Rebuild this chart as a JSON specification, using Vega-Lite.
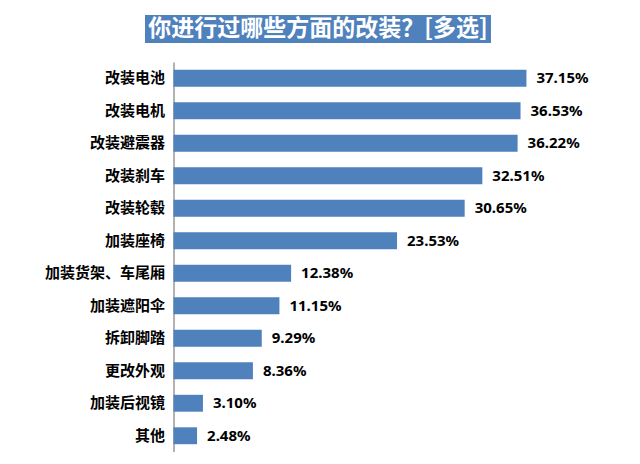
{
  "$schema": "https://vega.github.io/schema/vega-lite/v6.json",
  "padding": {"left": 44, "top": 15, "right": 0, "bottom": 0},
  "background": "white",
  "spacing": 19,
  "center": true,
  "config": {"view": {"stroke": null}},
  "vconcat": [
    {
      "width": 346,
      "height": 28,
      "data": {"values": [{"t": "你进行过哪些方面的改装？[多选]"}]},
      "encoding": {
        "y": {
          "field": "t", "type": "nominal",
          "scale": {"paddingInner": 0, "paddingOuter": 0},
          "axis": {"orient": "right", "title": null, "labels": false, "ticks": false, "domain": false, "grid": false, "minExtent": 126, "maxExtent": 126}
        }
      },
      "layer": [
        {"mark": {"type": "rect", "color": "#4F81BD"}},
        {
          "mark": {"type": "text", "color": "white", "fontSize": 23, "fontWeight": "bold", "font": "Noto Sans CJK SC"},
          "encoding": {"text": {"field": "t"}}
        }
      ]
    },
    {
      "width": 380,
      "height": 390,
      "data": {"values": [
        {"item": "改装电池", "v": 0.3715},
        {"item": "改装电机", "v": 0.3653},
        {"item": "改装避震器", "v": 0.3622},
        {"item": "改装刹车", "v": 0.3251},
        {"item": "改装轮毂", "v": 0.3065},
        {"item": "加装座椅", "v": 0.2353},
        {"item": "加装货架、车尾厢", "v": 0.1238},
        {"item": "加装遮阳伞", "v": 0.1115},
        {"item": "拆卸脚踏", "v": 0.0929},
        {"item": "更改外观", "v": 0.0836},
        {"item": "加装后视镜", "v": 0.031},
        {"item": "其他", "v": 0.0248}
      ]},
      "encoding": {
        "y": {
          "field": "item", "type": "nominal", "sort": null,
          "scale": {"paddingInner": 0.48, "paddingOuter": 0.24},
          "axis": {
            "title": null, "ticks": false, "domainColor": "#999999", "domainWidth": 1.5,
            "labelFontSize": 15, "labelFontWeight": "bold", "labelColor": "#000000",
            "labelFont": "Noto Sans CJK SC", "labelPadding": 9
          }
        },
        "x": {"field": "v", "type": "quantitative", "scale": {"domain": [0, 0.4]}, "axis": null}
      },
      "layer": [
        {"mark": {"type": "bar", "color": "#4F81BD"}},
        {
          "mark": {"type": "text", "align": "left", "dx": 10, "fontSize": 15, "fontWeight": "bold", "color": "#000000", "font": "Noto Sans"},
          "encoding": {"text": {"field": "v", "type": "quantitative", "format": ".2%"}}
        }
      ]
    }
  ]
}
